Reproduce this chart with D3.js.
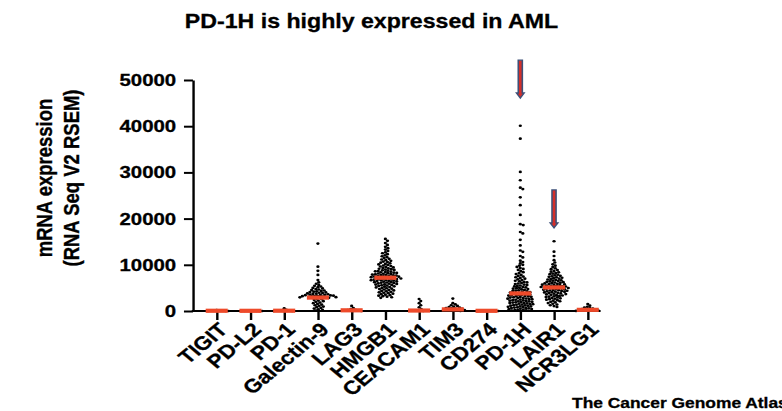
<!DOCTYPE html>
<html>
<head>
<meta charset="utf-8">
<script src="https://cdn.jsdelivr.net/npm/d3@7"></script>
<style>
  html, body { margin: 0; padding: 0; background: #fff; }
  svg { display: block; }
  text { font-family: "Liberation Sans", Arial, Helvetica, sans-serif; font-weight: bold; fill: #000; stroke: #000; stroke-width: 0.3px; }
</style>
</head>
<body>
<svg id="chart"></svg>
<script>
// genes on the x axis
const genes = ['TIGIT', 'PD-L2', 'PD-1', 'Galectin-9', 'LAG3', 'HMGB1', 'CEACAM1', 'TIM3', 'CD274', 'PD-1H', 'LAIR1', 'NCR3LG1'];

// mRNA expression per sample (RNA Seq V2 RSEM)
const tigit = [180, 120, 80, 50, 30, 10, 0, 60];
const pdl2 = [150, 90, 60, 40, 20, 10, 0, 30];
const pd1 = [600, 250, 150, 90, 50, 20, 0, 120];
const galectin9 = [14600, 9600, 8700, 7800, 6700,
  6200, 5900, 5650, 5450, 5300, 5150, 5000, 4880, 4760, 4650, 4540, 4440, 4350, 4260, 4180, 4100, 4020,
  3950, 3880, 3810, 3750, 3690, 3630, 3570, 3520, 3470, 3420, 3370, 3320, 3280, 3240, 3200, 3160, 3120,
  3080, 3040, 3000, 2960, 2920,
  2850, 2700, 2560, 2410, 2260, 2120, 1980, 1830, 1690, 1540, 1400, 1250, 1110, 960, 820, 670, 530, 380, 240, 90];
const lag3 = [1100, 650, 400, 260, 180, 120, 60, 20, 0];
const hmgb1 = [15600, 15200, 14700, 14300, 13900, 13600, 13300, 13000, 12700, 12500, 12300, 12050, 11850,
  11650, 11450, 11300, 11150, 11000, 10850, 10700, 10580, 10450, 10320, 10200, 10080, 9960, 9850, 9740,
  9630, 9530, 9430, 9330, 9240, 9150, 9060, 8970, 8890, 8810, 8730, 8650, 8580, 8510, 8440, 8370, 8300,
  8240, 8180, 8120, 8060, 8000, 7940, 7880, 7820, 7770, 7720, 7670, 7620, 7570, 7520, 7470, 7420, 7370,
  7320, 7270, 7220, 7180, 7130, 7080, 7030, 6980, 6930, 6880, 6830, 6780, 6730, 6680, 6630, 6580, 6530,
  6470, 6410, 6350, 6290, 6230, 6170, 6110, 6050, 5990, 5920, 5850, 5780, 5710, 5640, 5570, 5500, 5420,
  5340, 5260, 5180, 5100, 5010, 4920, 4830, 4740, 4650, 4550, 4450, 4350, 4250, 4150, 4050, 3950, 3850,
  3750, 3640, 3530, 3420, 3310, 3200, 3090, 2980, 2860];
const ceacam1 = [2600, 2150, 1700, 1250, 800, 400, 150, 60, 0];
const tim3 = [2700, 1700, 1450, 1250, 1100, 950, 850, 750, 650, 580, 500, 440, 380, 320, 260, 200, 140, 80, 20];
const cd274 = [120, 80, 50, 30, 10, 0, 60, 20];
const pd1h = [40100, 37300, 30100, 28300, 26700, 26400, 24600, 22900, 20800, 18800, 18600, 17100, 16800,
  15400, 14200, 13100, 12800, 11900, 11600, 10900, 10600, 10300, 10000, 9800, 9550, 9300, 9100, 8900,
  8650, 8400, 8200, 8000, 7800, 7600, 7450, 7300, 7150, 7000, 6850, 6700, 6550, 6420, 6300, 6180, 6060,
  5950, 5840, 5730, 5620, 5520, 5420, 5320, 5220, 5120, 5020, 4930, 4840, 4750, 4660, 4570, 4480, 4400,
  4320, 4240, 4160, 4080, 4000, 3930, 3860, 3740, 3690, 3610, 3570, 3490, 3450, 3370, 3330, 3250, 3210,
  3150, 3070, 3030, 2950, 2910, 2830, 2790, 2710, 2670, 2590, 2550, 2470, 2430, 2350, 2310, 2230, 2190,
  2110, 2070, 1990, 1950, 1870, 1830, 1750, 1710, 1630, 1590, 1510, 1470, 1390, 1350, 1270, 1230, 1150,
  1110, 1030, 990, 910, 870, 790, 750, 670, 630, 550, 510, 430, 390, 310, 270, 190, 150, 70];
const lair1 = [15100, 12850, 11900, 11000, 10500, 10100, 9800, 9500, 9250, 9050, 8850, 8680, 8520, 8370,
  8230, 8100, 7970, 7850, 7730, 7620, 7510, 7400, 7300, 7200, 7100, 7000, 6910, 6820, 6730, 6640, 6560,
  6480, 6400, 6320, 6240, 6170, 6100, 6030, 5960, 5890, 5820, 5760, 5700, 5640, 5580, 5520, 5460, 5400,
  5350, 5300, 5250, 5200, 5150, 5100, 5040, 4980, 4920, 4860, 4800, 4740, 4680, 4620, 4560, 4500, 4440,
  4380, 4320, 4260, 4200, 4140, 4080, 4010, 3940, 3870, 3800, 3730, 3660, 3590, 3510, 3430, 3350, 3270,
  3190, 3110, 3020, 2930, 2840, 2750, 2650, 2550, 2450, 2340, 2230, 2110, 1990, 1860, 1720, 1570, 1410,
  1240, 1060, 880];
const ncr3lg1 = [1500, 1150, 900, 750, 620, 520, 430, 350, 280, 220, 160, 110, 60, 20];

const samples = [tigit, pdl2, pd1, galectin9, lag3, hmgb1, ceacam1, tim3, cd274, pd1h, lair1, ncr3lg1];
const medians = [50, 40, 60, 2900, 150, 7200, 100, 350, 40, 3800, 5100, 250];

const yTicks = [0, 10000, 20000, 30000, 40000, 50000];

// arrows pointing at PD-1H and LAIR1 (value where arrow starts, where it ends)
const arrows = [
  { gene: 'PD-1H', from: 54300, to: 46100 },
  { gene: 'LAIR1', from: 26200, to: 18000 }
];

// the picture is stretched sideways, so draw in a narrower box and let the viewBox stretch it
const W = 782, H = 411, STRETCH = 1.2;
const svg = d3.select('#chart')
  .attr('width', W).attr('height', H)
  .attr('viewBox', [0, 0, W / STRETCH, H])
  .attr('preserveAspectRatio', 'none');

const axisX0 = 160.8, axisX1 = 500.5;

const y = d3.scaleLinear().domain([0, 50000]).range([311, 80]);
const x = d3.scalePoint().domain(genes).range([180.6, 489.8]);

// title
svg.append('text')
  .attr('x', 309.6).attr('y', 28)
  .attr('text-anchor', 'middle')
  .style('font-size', '19.3px')
  .text('PD-1H is highly expressed in AML');

// y axis
const yAxis = svg.append('g')
  .attr('transform', `translate(${axisX0},0)`)
  .call(d3.axisLeft(y).tickValues(yTicks).tickFormat(d3.format('d')).tickSize(7.5).tickSizeOuter(0).tickPadding(6.5));
yAxis.select('.domain').attr('stroke', '#000').attr('stroke-width', 2);
yAxis.selectAll('.tick line').attr('stroke', '#000').attr('stroke-width', 2);
yAxis.selectAll('.tick text').attr('fill', '#000').style('font-size', '17px').style('font-family', null);

// y axis title
const yTitle = svg.append('g').attr('transform', 'translate(43,178) rotate(-90)');
yTitle.append('text').attr('text-anchor', 'middle').attr('y', 0)
  .style('font-size', '18.5px').text('mRNA expression');
yTitle.append('text').attr('text-anchor', 'middle').attr('y', 22.5)
  .style('font-size', '18.5px').text('(RNA Seq V2 RSEM)');

// x axis
const xAxis = svg.append('g')
  .attr('transform', 'translate(0,311)')
  .call(d3.axisBottom(x).tickSize(9).tickSizeOuter(0));
xAxis.select('.domain').remove();
xAxis.append('line')
  .attr('x1', axisX0 - 1).attr('x2', axisX1)
  .attr('stroke', '#000').attr('stroke-width', 2);
xAxis.selectAll('.tick line').attr('stroke', '#000').attr('stroke-width', 2);
xAxis.selectAll('.tick text')
  .attr('fill', '#000')
  .style('font-size', '19px').style('font-family', null)
  .attr('text-anchor', 'end')
  .attr('x', 0).attr('y', 0).attr('dy', '0.35em')
  .attr('transform', 'translate(5,15) rotate(-45)');

// simple beeswarm: place each dot at the nearest free horizontal offset
function swarm(vals, spacing) {
  const pts = vals.map(v => ({ v, y: y(v), dx: 0 })).sort((a, b) => b.v - a.v);
  const done = [];
  for (const p of pts) {
    let k = 0, off = 0;
    while (true) {
      off = k === 0 ? 0 : (k % 2 ? 1 : -1) * Math.ceil(k / 2) * 0.35;
      const ok = done.every(q => Math.abs(q.y - p.y) >= spacing ||
        (q.dx - off) ** 2 + (q.y - p.y) ** 2 >= spacing * spacing);
      if (ok) break;
      k++;
    }
    p.dx = off;
    done.push(p);
  }
  return pts;
}

const dots = svg.append('g');
genes.forEach((g, i) => {
  dots.append('g')
    .selectAll('circle')
    .data(swarm(samples[i], 2.35))
    .join('circle')
    .attr('cx', d => x(g) + d.dx)
    .attr('cy', d => d.y)
    .attr('r', 1.35)
    .attr('fill', '#000');
});

// median bars
svg.append('g')
  .selectAll('line')
  .data(genes)
  .join('line')
  .attr('x1', d => x(d) - 9.2)
  .attr('x2', d => x(d) + 9.2)
  .attr('y1', (d, i) => y(medians[i]))
  .attr('y2', (d, i) => y(medians[i]))
  .attr('stroke', '#ee4a2a')
  .attr('stroke-width', 4.2);

// arrows
const hw = 1.7, hh = 3.2, hl = 5;
svg.append('g')
  .selectAll('path')
  .data(arrows)
  .join('path')
  .attr('d', d => {
    const cx = x(d.gene), y0 = y(d.from), y1 = y(d.to);
    return `M${cx - hw},${y0}H${cx + hw}V${y1 - hl}H${cx + hh}L${cx},${y1}L${cx - hh},${y1 - hl}H${cx - hw}Z`;
  })
  .attr('fill', '#d42f2a')
  .attr('stroke', '#3d5078')
  .attr('stroke-width', 1.3);

// source note (cut at the right edge, as in the original)
svg.append('text')
  .attr('x', 476.7).attr('y', 408)
  .style('font-size', '14.5px')
  .text('The Cancer Genome Atlas');
</script>
</body>
</html>
